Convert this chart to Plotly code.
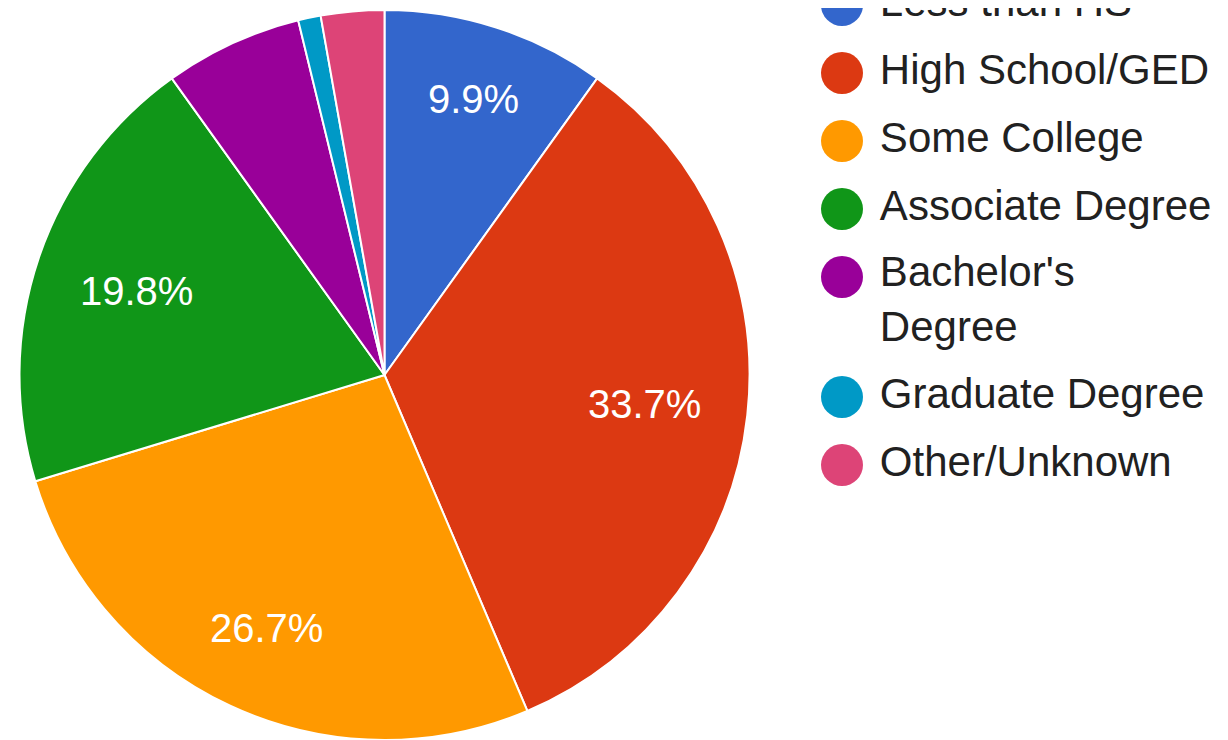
import math
import plotly.graph_objects as go

categories = ["Less than HS", "High School/GED", "Some College", "Associate Degree",
              "Bachelor's<br>Degree", "Graduate Degree", "Other/Unknown"]
values = [9.9, 33.7, 26.7, 19.8, 6.1, 1.0, 2.8]
colors = ["#3366CC", "#DC3912", "#FF9900", "#109618", "#990099", "#0099C6", "#DD4477"]
label_threshold = 8.0  # slices below this percent get no label

FONT = "Liberation Sans, Arial, sans-serif"
W, H = 1220, 732          # page body adds an 8px margin
R = 365.0                 # pie radius in px
CX, CY = 376.5, 367.0     # pie centre in figure px (from top-left)

fig = go.Figure()
fig.add_trace(go.Pie(
    labels=categories, values=values, sort=False, direction="clockwise", rotation=0,
    marker=dict(colors=colors, line=dict(color="white", width=2)),
    textinfo="none",
    domain=dict(x=[(CX - R) / W, (CX + R) / W], y=[(H - CY - R) / H, (H - CY + R) / H]),
    showlegend=False, hoverinfo="label+percent",
))

# slice labels, placed along each slice's mid-angle (Google-charts style placement)
total = sum(values)
fs = 40
D = 0.876 * R
cum = 0.0
annotations = []
for v in values:
    mid = (cum + v / 2) / total * 2 * math.pi
    cum += v
    pct = v / total * 100
    if pct < label_threshold:
        continue
    txt = f"{pct:.1f}%"
    hw = len(txt) * 0.567 * fs / 2
    hh = 0.716 * fs / 2
    ux, uy = math.sin(mid), -math.cos(mid)
    b = abs(ux) * hw + abs(uy) * hh
    c = hw * hw + hh * hh - D * D
    d = -b + math.sqrt(b * b - c)
    px, py = CX + d * ux, CY + d * uy
    annotations.append(dict(
        x=px / W, y=1 - py / H, xref="paper", yref="paper", text=txt, showarrow=False,
        xanchor="center", yanchor="middle",
        font=dict(family=FONT, size=fs, color="white"),
    ))

# custom legend built from the categories
extra_line = 0.765
ys = []
acc = 0.0
for c_ in categories:
    ys.append(acc)
    acc += 1 + extra_line * c_.count("<br>")
text_ys = [y + extra_line * c_.count("<br>") / 2 for y, c_ in zip(ys, categories)]

fig.add_trace(go.Scatter(
    x=[0] * len(categories), y=ys, mode="markers",
    marker=dict(size=42, color=colors, symbol="circle", line=dict(width=0)),
    showlegend=False, hoverinfo="skip", cliponaxis=True,
))
fig.add_trace(go.Scatter(
    x=[0] * len(categories), y=text_ys, mode="markers+text", text=categories,
    textposition="middle right",
    marker=dict(size=59, color="rgba(0,0,0,0)", line=dict(width=0)),
    textfont=dict(family=FONT, size=42, color="#212121"),
    showlegend=False, hoverinfo="skip", cliponaxis=True,
))

leg_x0 = 0.62
leg_off = 834 - leg_x0 * W
row = 68.0
first = -3.0
fig.update_layout(
    width=W, height=H, autosize=False,
    margin=dict(l=0, r=0, t=0, b=0, pad=0),
    paper_bgcolor="white", plot_bgcolor="white",
    annotations=annotations,
    xaxis=dict(domain=[leg_x0, 1.0], range=[-leg_off, (1 - leg_x0) * W - leg_off],
               visible=False, fixedrange=True),
    yaxis=dict(domain=[0, 1], range=[(H - first) / row, -first / row],
               visible=False, fixedrange=True),
)

fig.write_html("out.html")
